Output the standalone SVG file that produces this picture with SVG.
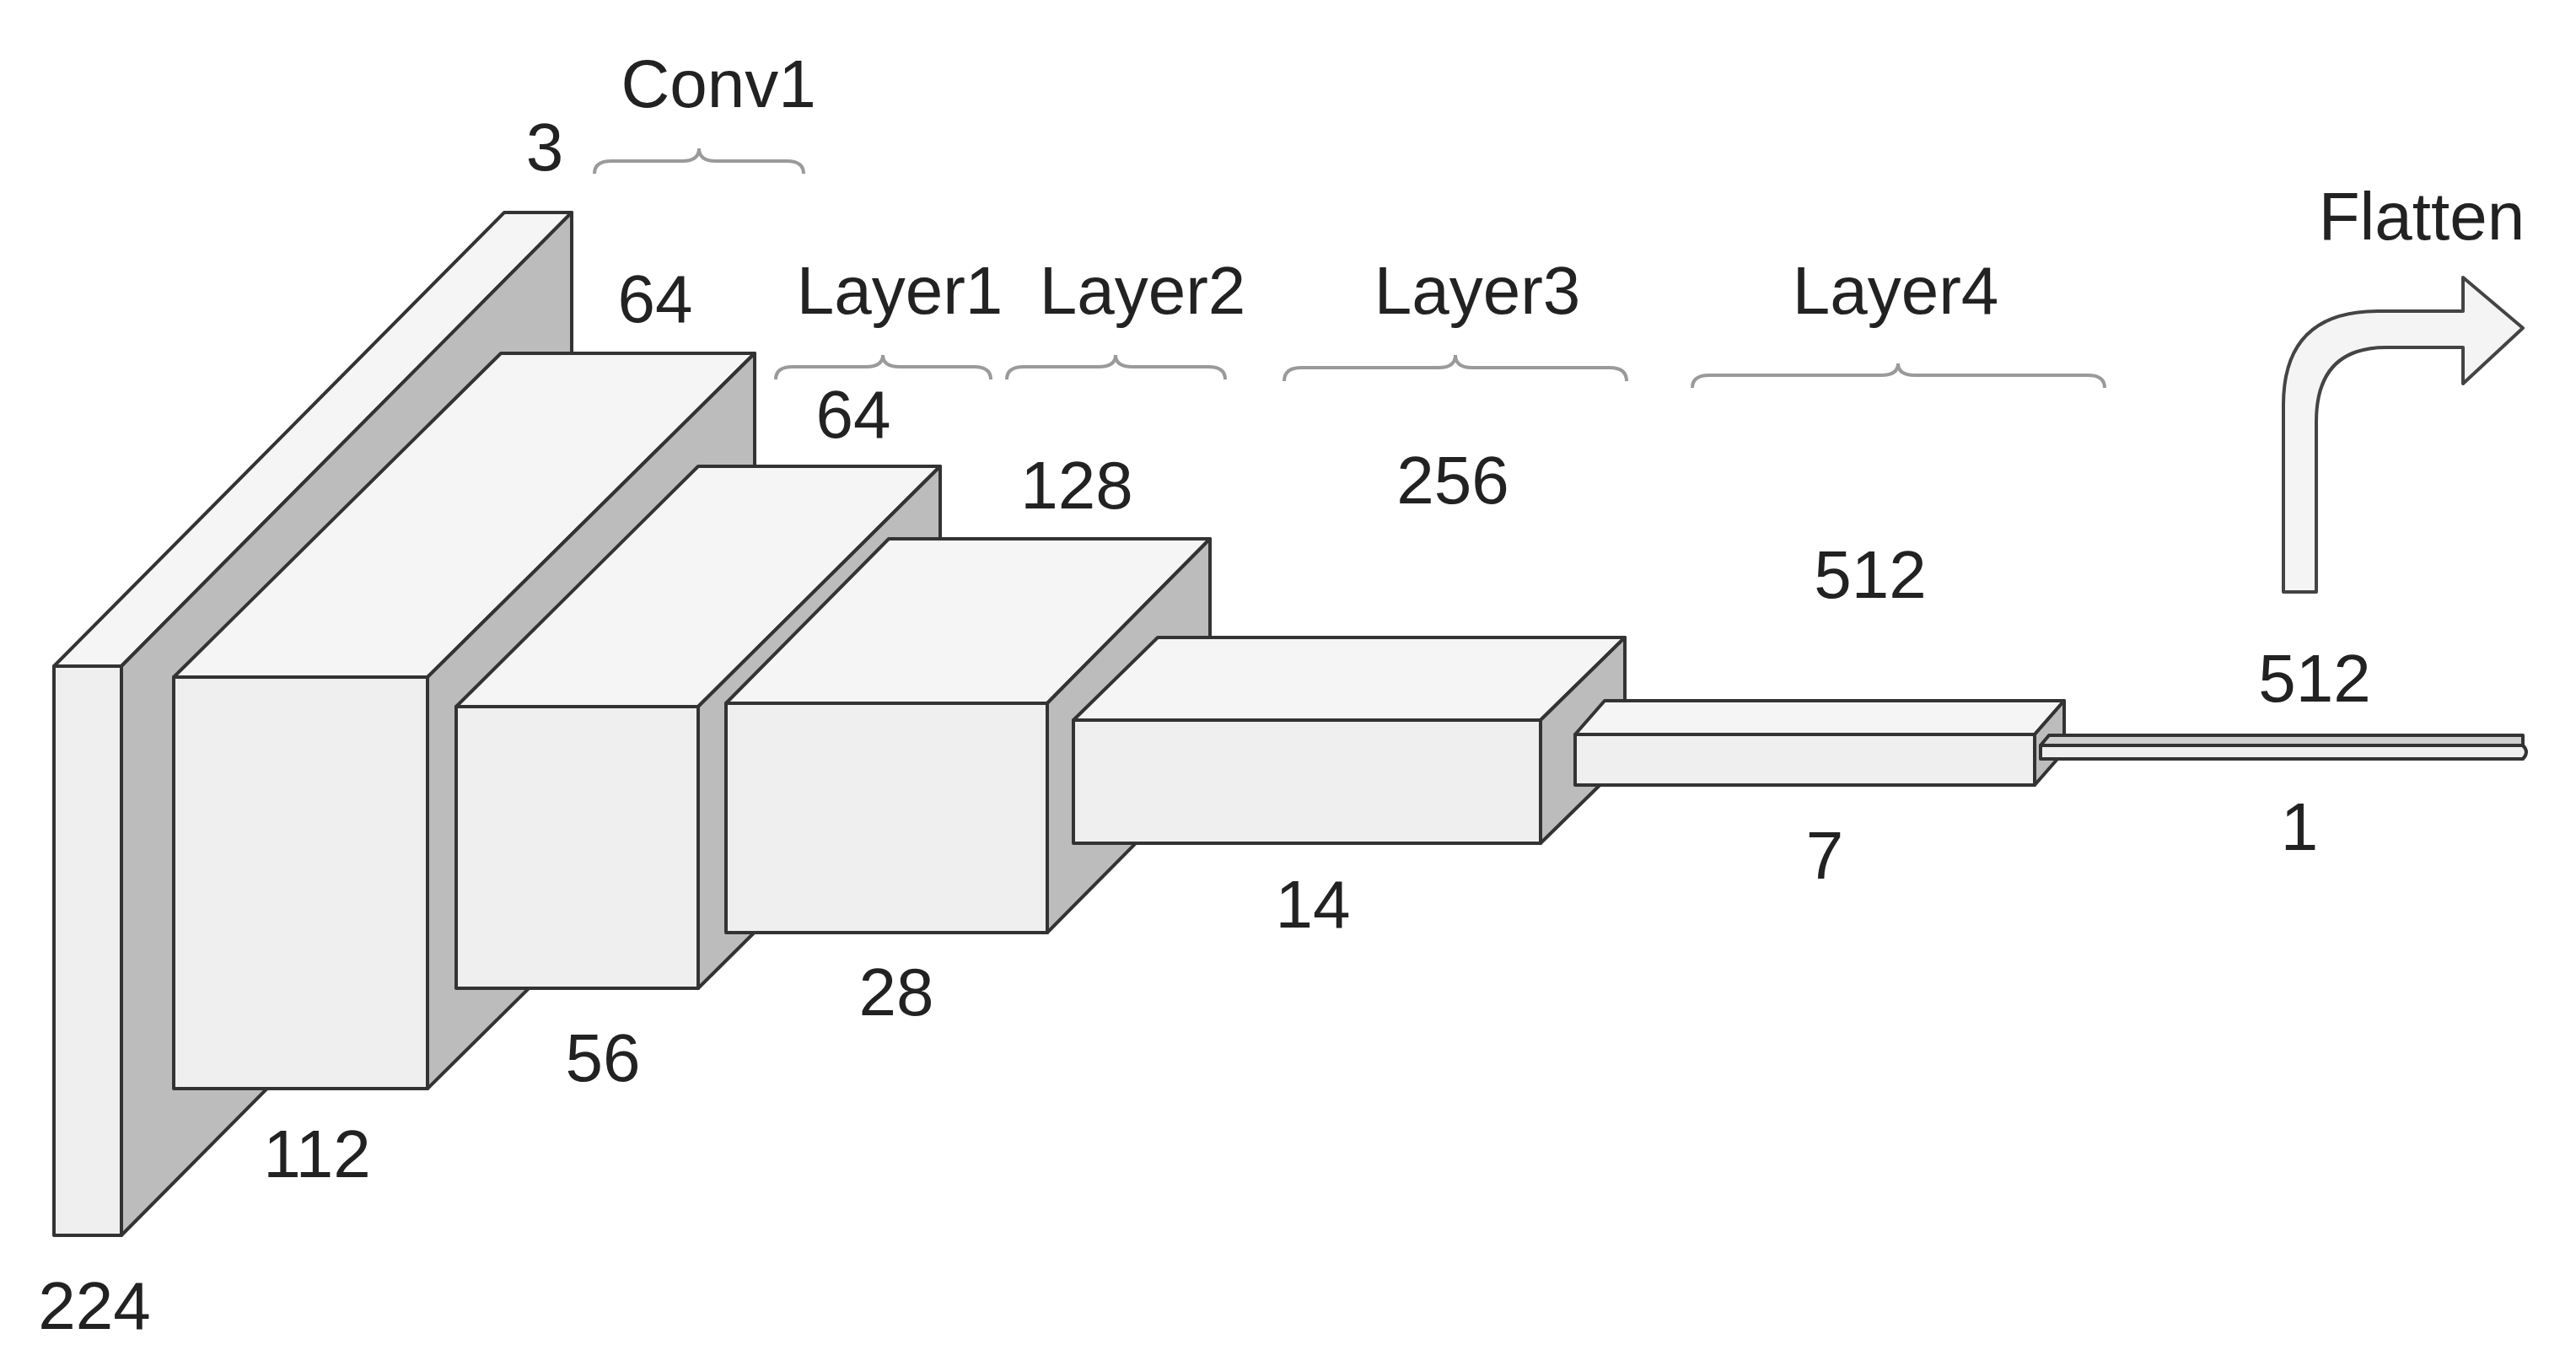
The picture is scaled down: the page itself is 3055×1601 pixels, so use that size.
<svg xmlns="http://www.w3.org/2000/svg" width="3055" height="1601" viewBox="0 0 3055 1601">
<style>
.f{fill:#efefef;stroke:#333;stroke-width:4;stroke-linejoin:round}
.t{fill:#f5f5f5;stroke:#333;stroke-width:4;stroke-linejoin:round}
.s{fill:#bcbcbc;stroke:#333;stroke-width:4;stroke-linejoin:round}
.b{fill:none;stroke:#9a9a9a;stroke-width:4}
text{font-family:"Liberation Sans",Arial,sans-serif;font-size:80px;fill:#222;text-anchor:middle}
</style>
<rect width="3055" height="1601" fill="#fff"/>
<g id="blockA">
<polygon class="t" points="64,790 598,252 678,252 144,790"/>
<polygon class="s" points="144,790 678,252 678,927 144,1465"/>
<rect class="f" x="64" y="790" width="80" height="675"/>
</g>
<g id="blockB">
<polygon class="t" points="206,803 594,419 895,419 507,803"/>
<polygon class="s" points="507,803 895,419 895,907 507,1291"/>
<rect class="f" x="206" y="803" width="301" height="488"/>
</g>
<g id="blockC">
<polygon class="t" points="541,838 828,553 1115,553 828,838"/>
<polygon class="s" points="828,838 1115,553 1115,887 828,1172"/>
<rect class="f" x="541" y="838" width="287" height="334"/>
</g>
<g id="blockD">
<polygon class="t" points="861,834 1054,639 1435,639 1242,834"/>
<polygon class="s" points="1242,834 1435,639 1435,911 1242,1106"/>
<rect class="f" x="861" y="834" width="381" height="272"/>
</g>
<g id="blockE">
<polygon class="t" points="1273,854 1373,756 1927,756 1827,854"/>
<polygon class="s" points="1827,854 1927,756 1927,902 1827,1000"/>
<rect class="f" x="1273" y="854" width="554" height="146"/>
</g>
<g id="blockF">
<polygon class="t" points="1868,871 1903,831 2448,831 2413,871"/>
<polygon class="s" points="2413,871 2448,831 2448,891 2413,931"/>
<rect class="f" x="1868" y="871" width="545" height="60"/>
</g>
<g id="blockG">
<polygon class="t" points="2420,884 2430,872 2992,872 2992,884" style="fill:#cfcfcf"/>
<path class="f" d="M2420,884 L2992,884 Q3000,892 2992,900 L2420,900 Z"/>
</g>
<g id="connectors">
<path class="b" d="M705,206 Q705,191 725,191 L809,191 Q829,191 829,176 Q829,191 849,191 L933,191 Q953,191 953,206"/>
<path class="b" d="M920,450 Q920,435 940,435 L1027,435 Q1047,435 1047,421 Q1047,435 1067,435 L1155,435 Q1175,435 1175,450"/>
<path class="b" d="M1194,450 Q1194,435 1214,435 L1303,435 Q1323,435 1323,421 Q1323,435 1343,435 L1433,435 Q1453,435 1453,450"/>
<path class="b" d="M1523,452 Q1523,436 1543,436 L1706,436 Q1726,436 1726,421 Q1726,436 1746,436 L1909,436 Q1929,436 1929,452"/>
<path class="b" d="M2007,460 Q2007,445 2027,445 L2231,445 Q2251,445 2251,431 Q2251,445 2271,445 L2476,445 Q2496,445 2496,460"/>
<path id="flatten-arrow" d="M2708,702 L2708,480 Q2708,369 2820,369 L2921,369 L2921,329 L2992,389 L2921,455 L2921,412 L2830,412 Q2747,412 2747,500 L2747,702 Z" fill="#f4f4f4" stroke="#444" stroke-width="4" stroke-linejoin="round"/>
</g>
<g id="labels">
<text x="852" y="127">Conv1</text>
<text x="646" y="202">3</text>
<text x="777" y="382">64</text>
<text x="1067" y="372">Layer1</text>
<text x="1355" y="372">Layer2</text>
<text x="1012" y="519">64</text>
<text x="1277" y="603">128</text>
<text x="1752" y="372">Layer3</text>
<text x="1723" y="597">256</text>
<text x="2248" y="372">Layer4</text>
<text x="2218" y="709">512</text>
<text x="2872" y="284">Flatten</text>
<text x="2745" y="832">512</text>
<text x="2727" y="1008">1</text>
<text x="2164" y="1042">7</text>
<text x="1557" y="1100">14</text>
<text x="1063" y="1204">28</text>
<text x="715" y="1282">56</text>
<text x="376" y="1396">112</text>
<text x="112" y="1576">224</text>
</g>
</svg>
